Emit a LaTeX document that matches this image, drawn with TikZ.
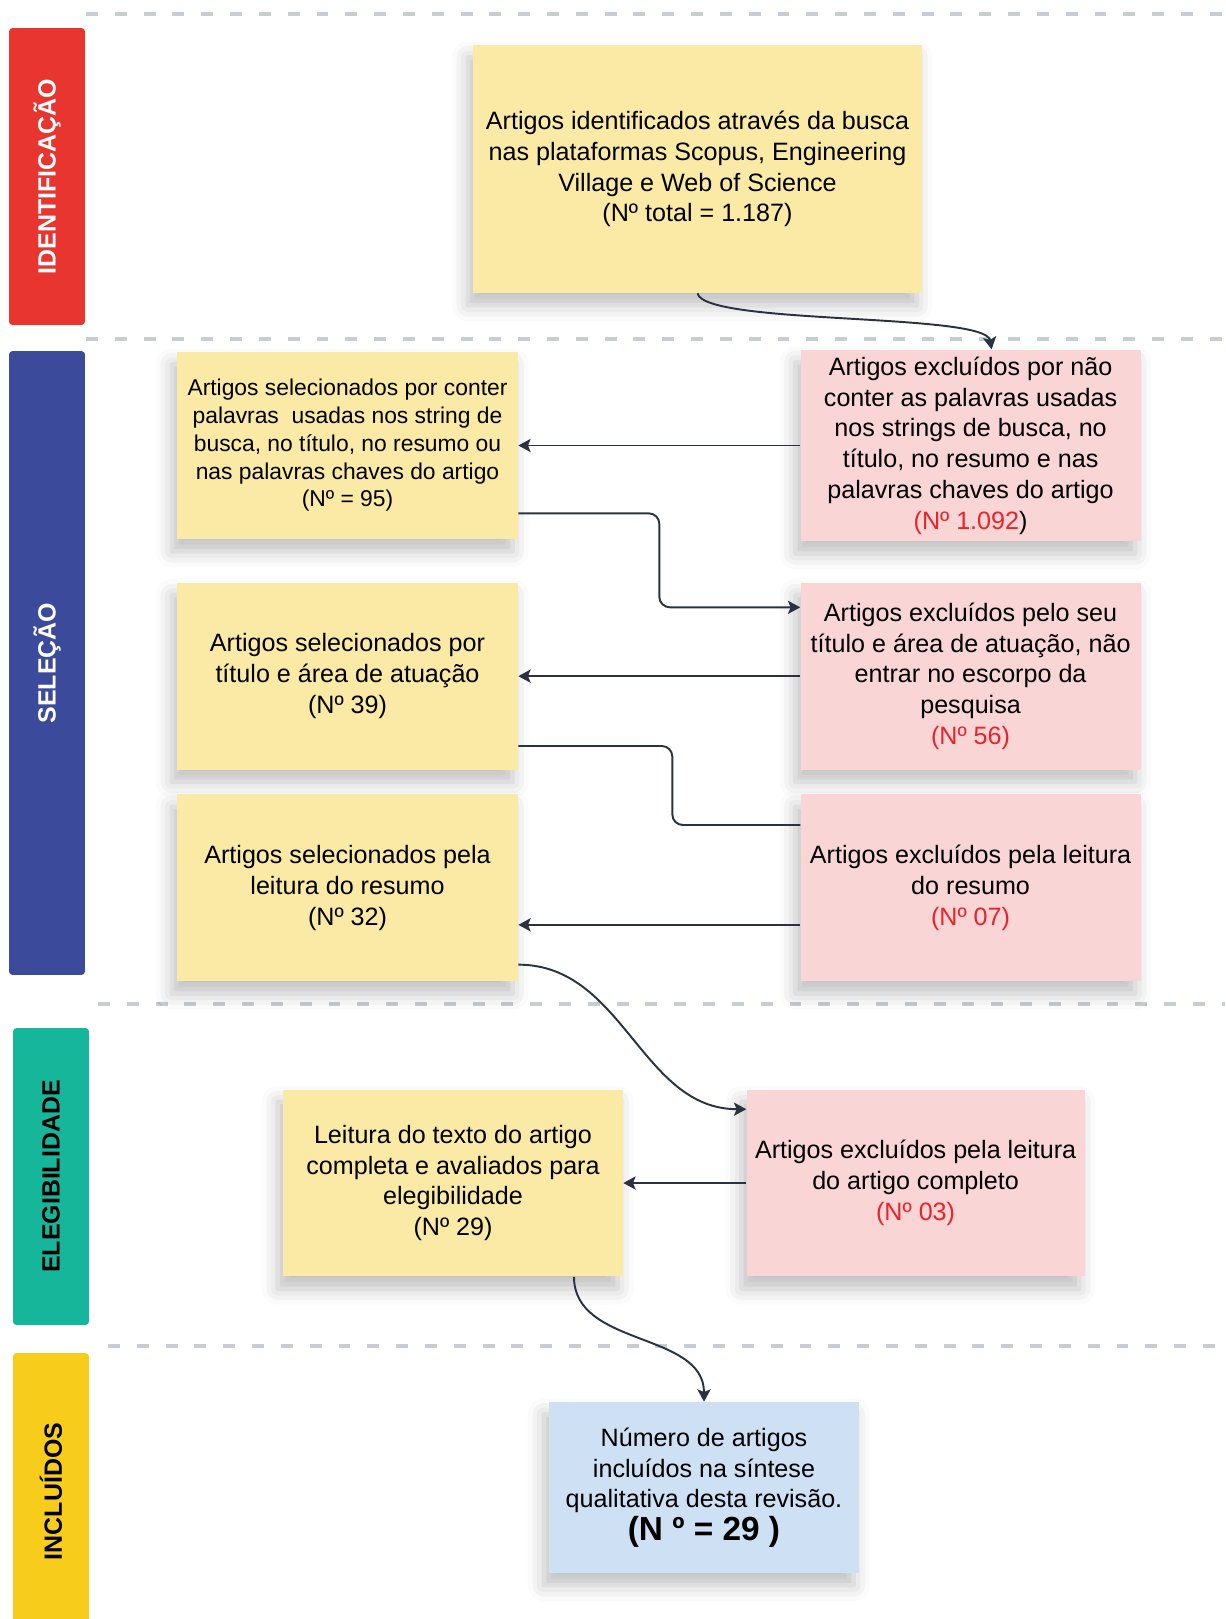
\documentclass[tikz,border=0pt]{standalone}
\usepackage{fontspec}
\setmainfont{Liberation Sans}
\usepackage{xcolor}
\usetikzlibrary{positioning,arrows.meta,calc,shadows.blur}

\definecolor{bandRed}{HTML}{E9352F}
\definecolor{bandNavy}{HTML}{3C4A9C}
\definecolor{bandTeal}{HTML}{16B69A}
\definecolor{bandGold}{HTML}{F8CC1B}
\definecolor{cardYellow}{HTML}{FBEAA5}
\definecolor{cardPink}{HTML}{F9D5D6}
\definecolor{cardBlue}{HTML}{CEE0F3}
\definecolor{numRed}{HTML}{E8232A}
\definecolor{lineDark}{HTML}{2A3240}
\definecolor{dashGray}{HTML}{C8CDD5}

\begin{document}
\begin{tikzpicture}[
    x=0.02cm, y=-0.02cm,
    font=\fontsize{14.3}{17.5}\selectfont,
    band/.style={rectangle, rounded corners=2pt, rotate=90, minimum height=1.52cm, inner sep=0pt, font=\fontsize{14.2}{16}\selectfont\bfseries},
    card/.style={rectangle, align=center, inner sep=4pt, blur shadow={shadow xshift=-3pt, shadow yshift=-7pt, shadow blur radius=9pt, shadow opacity=25}},
    sel/.style={card, fill=cardYellow, minimum width=6.82cm, minimum height=3.74cm},
    exc/.style={card, fill=cardPink, minimum width=6.8cm, minimum height=3.74cm},
    arrow/.style={-{Stealth[length=7pt, width=7.5pt, inset=1.5pt]}, line width=1.1pt, color=lineDark},
    link/.style={line width=1.1pt, color=lineDark},
    divider/.style={line width=2.2pt, color=dashGray, dash pattern=on 6.8pt off 9.6pt}
]
\useasboundingbox (0,0) rectangle (1225,1619);

% phase dividers
\draw[divider] (86,14) -- (1225,14);
\draw[divider] (86,339) -- (1225,339);
\draw[divider] (98,1004) -- (1225,1004);
\draw[divider] (108,1346) -- (1225,1346);

% phase bands
\node[band, fill=bandRed, text=white, minimum width=5.94cm] (bandId) at (47,176.5) {IDENTIFICAÇÃO};
\node[band, fill=bandNavy, text=white, minimum width=12.48cm] (bandSel) at (47,663) {SELEÇÃO};
\node[band, fill=bandTeal, text=black, minimum width=5.94cm] (bandEleg) at (51,1176.5) {ELEGIBILIDADE};
\node[band, fill=bandGold, text=black, minimum width=5.54cm] (bandIncl) at (51,1491.5) {INCLUÍDOS};

% identification
\node[card, fill=cardYellow, minimum width=8.98cm, minimum height=4.96cm] (Busca) at (697.5,169) {Artigos identificados através da busca\\nas plataformas Scopus, Engineering\\Village e Web of Science\\(Nº total = 1.187)};

% selection
\node[sel, font=\fontsize{13}{15.8}\selectfont] (SelA) at (347.5,445.5) {Artigos selecionados por conter\\palavras~ usadas nos string de\\busca, no título, no resumo ou\\nas palavras chaves do artigo\\(Nº = 95)};
\node[exc, right=5.64cm of SelA] (ExcA) {Artigos excluídos por não\\conter as palavras usadas\\nos strings de busca, no\\título, no resumo e nas\\palavras chaves do artigo\\{\color{numRed}(Nº 1.092})};

\node[sel, below=0.86cm of SelA] (SelB) {Artigos selecionados por\\título e área de atuação\\(Nº 39)};
\node[exc, right=5.64cm of SelB] (ExcB) {Artigos excluídos pelo seu\\título e área de atuação, não\\entrar no escorpo da\\pesquisa\\{\color{numRed}(Nº 56)}};

\node[sel, below=0.48cm of SelB] (SelC) {Artigos selecionados pela\\leitura do resumo\\(Nº 32)};
\node[exc, right=5.64cm of SelC] (ExcC) {Artigos excluídos pela leitura\\do resumo\\{\color{numRed}(Nº 07)}};

% eligibility
\node[sel, minimum width=6.8cm] (Eleg) at (453,1183) {Leitura do texto do artigo\\completa e avaliados para\\elegibilidade\\(Nº 29)};
\node[exc, minimum width=6.76cm, right=2.46cm of Eleg] (ExcD) {Artigos excluídos pela leitura\\do artigo completo\\{\color{numRed}(Nº 03)}};

% included
\node[card, fill=cardBlue, minimum width=6.2cm, minimum height=3.42cm] (Final) at (704,1487.5) {Número de artigos\\incluídos na síntese\\qualitativa desta revisão.\\[1pt]{\fontsize{19}{23}\selectfont\bfseries (N º = 29 )}};

% connectors
\draw[arrow] (Busca.south) .. controls +(7,32) and +(-6,-37) .. ($(ExcA.north)+(21,0)$);
\draw[arrow] (ExcA.west) -- (SelA.east);
\draw[arrow, rounded corners=6pt] ($(SelA.south east)+(0,-26)$) -- ++(141,0) |- ($(ExcB.north west)+(0,25)$);
\draw[arrow] (ExcB.west) -- (SelB.east);
\draw[link, rounded corners=6pt] ($(SelB.south east)+(0,-24)$) -- ++(154,0) |- ($(ExcC.north west)+(0,31)$);
\draw[arrow] ($(ExcC.west)+(0,37)$) -- ($(SelC.east)+(0,37)$);
\draw[arrow] ($(SelC.south east)+(0,-17)$) to[out=0, in=180] ($(ExcD.north west)+(0,20)$);
\draw[arrow] (ExcD.west) -- (Eleg.east);
\draw[arrow] ($(Eleg.south)+(121,0)$) to[out=-90, in=90] (Final.north);

\end{tikzpicture}
\end{document}
